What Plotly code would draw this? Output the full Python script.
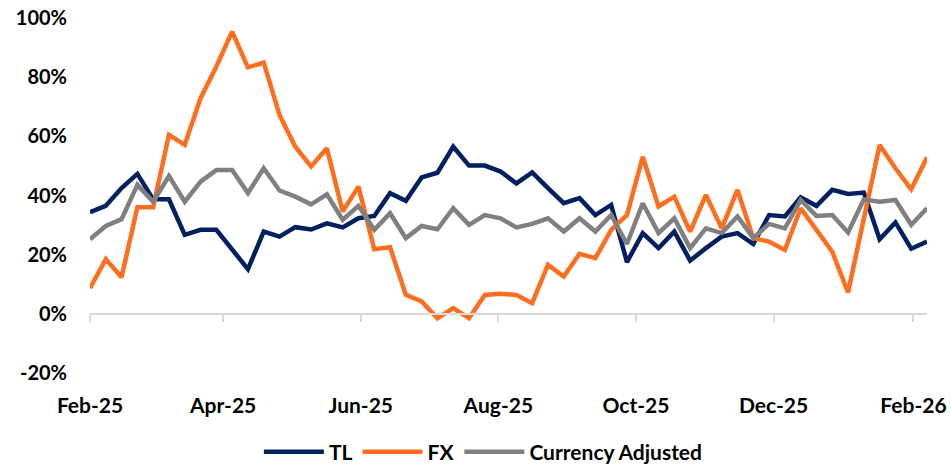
import pandas as pd
import plotly.graph_objects as go

dates = pd.date_range("2025-02-07", periods=54, freq="7D")

tl = [34.4, 36.5, 42.5, 47.3, 38.7, 38.7, 26.7, 28.4, 28.4, 21.5,
      15.1, 27.8, 26.1, 29.3, 28.5, 30.6, 29.2, 32.3, 33.1, 40.8,
      38.2, 46.1, 47.7, 56.5, 50.1, 50.1, 48.1, 44.1, 47.8, 42.5,
      37.4, 39.1, 33.4, 36.8, 17.5, 27.3, 22.2, 27.8, 18.0, 22.2,
      26.1, 27.3, 23.6, 33.4, 32.9, 39.4, 36.5, 41.9, 40.5, 41.0,
      25.2, 30.9, 22.0, 24.4]

fx = [8.7, 18.5, 12.4, 36.0, 36.0, 60.5, 57.1, 72.9, 83.6, 95.4,
      83.3, 84.9, 67.2, 56.5, 49.8, 56.0, 34.6, 43.0, 21.8, 22.5,
      6.4, 4.2, -1.5, 1.9, -1.5, 6.4, 6.8, 6.4, 3.6, 16.6,
      12.6, 20.3, 18.8, 28.4, 33.4, 53.1, 36.3, 39.6, 27.8, 40.2,
      28.9, 41.9, 25.6, 24.4, 21.6, 35.7, 28.4, 21.0, 7.2, 32.0,
      57.1, 49.2, 42.1, 52.9]

ca = [25.2, 29.7, 32.0, 43.6, 37.9, 46.6, 37.9, 44.7, 48.6, 48.6,
      40.8, 49.2, 41.7, 39.6, 37.0, 40.4, 31.8, 36.5, 28.4, 34.0,
      25.6, 29.7, 28.6, 35.7, 30.1, 33.4, 32.3, 29.2, 30.4, 32.3,
      27.8, 32.3, 27.8, 33.4, 23.6, 37.4, 27.3, 32.3, 22.2, 28.9,
      27.3, 32.9, 25.6, 30.4, 28.9, 38.5, 33.1, 33.4, 27.5, 38.7,
      37.9, 38.5, 30.1, 35.7]

series_names = ["TL", "FX", "Currency Adjusted"]
series_colors = ["#002060", "#FF6E1E", "#808080"]
y_ticks = [-20, 0, 20, 40, 60, 80, 100]
y_tick_text = ["-20%", "0%", "20%", "40%", "60%", "80%", "100%"]

FONT = "Lato, Carlito, Calibri, Liberation Sans, sans-serif"
TFONT = dict(family=FONT, size=21, color="black", weight="bold")
YFONT = dict(family=FONT, size=20, color="black", weight="bold")

fig = go.Figure()
for name, vals, col in zip(series_names, [tl, fx, ca], series_colors):
    fig.add_trace(go.Scatter(x=dates, y=vals, mode="lines", name=name,
                             line=dict(color=col, width=4.5)))

# invisible trace to carry the zero-crossing axis
fig.add_trace(go.Scatter(x=dates, y=tl, mode="lines", xaxis="x2", yaxis="y",
                         line=dict(color="rgba(0,0,0,0)"), showlegend=False,
                         hoverinfo="skip"))

xr = [dates[0], dates[-1]]
fig.update_layout(
    width=951, height=470,
    margin=dict(l=90, r=24, t=18, b=97, autoexpand=False),
    paper_bgcolor="white", plot_bgcolor="white",
    font=TFONT,
    showlegend=True,
    legend=dict(orientation="h", x=0.47, xanchor="center", y=-0.165, yanchor="top",
                font=TFONT, itemwidth=60, tracegroupgap=0),
    xaxis=dict(type="date", range=xr, tick0="2025-02-07", dtick="M2",
               tickformat="%b-%y", showgrid=False, zeroline=False,
               showline=False, ticks="", ticklabelstandoff=18,
               automargin=False, tickfont=TFONT),
    xaxis2=dict(type="date", range=xr, tick0="2025-02-07", dtick="M2",
                overlaying="x", anchor="free", position=20/120,
                showgrid=False, zeroline=False, showline=True,
                linecolor="#D9D9D9", linewidth=2, ticks="outside",
                ticklen=7, tickwidth=2, tickcolor="#D9D9D9",
                showticklabels=False, automargin=False),
    yaxis=dict(range=[-20, 100], tickvals=y_ticks, ticktext=y_tick_text,
               showgrid=False, zeroline=False, showline=False,
               ticklabelstandoff=22, automargin=False, tickfont=YFONT),
)
fig.update_xaxes(hoverformat="%d %b %Y")

fig.write_html("out.html", config={"displayModeBar": False},
               post_script="document.body.style.margin='0';document.body.style.padding='0';")
